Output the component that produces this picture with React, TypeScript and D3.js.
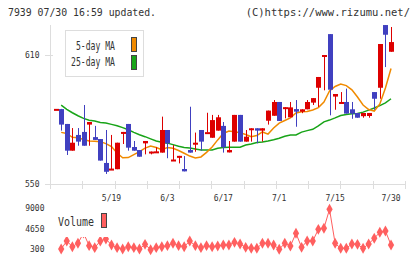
import React from "react";
import * as d3 from "d3";

const opens = [585, 584.9, 578, 565.6, 572.9, 574.3, 577.7, 571.9, 571, 559.9, 557, 557, 574, 578, 567.3, 565.9, 569.0, 565, 565, 564.7, 575.2, 561.3, 563, 557.1, 565.9, 568.9, 575.2, 574, 571.6, 574.9, 577.1, 564.8, 569.8, 582.2, 569.8, 575.2, 576, 574.9, 579.5, 581.8, 588.2, 585.6, 581.1, 584.9, 583.7, 584.8, 587.9, 594.8, 609.7, 619.7, 590.7, 588.1, 588.2, 584.8, 583.1, 581.6, 581.7, 592.8, 594.8, 623.9, 611.5];
const highs = [585, 585, 578, 576.1, 576.1, 586.8, 578.9, 577.1, 571, 575.2, 572.9, 569.3, 574.3, 578, 570.1, 565.9, 570.1, 565.2, 567.2, 581.4, 575.2, 568.2, 563.2, 563.1, 586, 574, 575.2, 583.2, 582.2, 582.2, 578.9, 570.1, 582.2, 582.2, 575.2, 576, 576, 576, 584.2, 589.1, 588.2, 585.8, 588.2, 589.1, 584.8, 589.1, 590, 599.8, 610, 619.7, 591.9, 592.8, 594.4, 588.2, 583.1, 583.1, 583.1, 592.8, 615.1, 623.9, 623];
const lows = [585, 574.9, 563.6, 565.6, 567.9, 567.9, 567.9, 570.6, 561, 554.8, 557, 557, 568.7, 565.6, 565.6, 562.8, 563.9, 563.9, 565, 564.7, 562.1, 561.3, 559.7, 556, 564.7, 565.1, 565.6, 574, 571.6, 574.9, 564.7, 564.8, 569.8, 569.8, 569.8, 569.8, 569, 569.8, 577.7, 581.8, 579.4, 580.6, 581.1, 576.7, 583, 584.8, 586.8, 585.9, 593.6, 582, 584.6, 588.1, 582.8, 580.4, 580.9, 580.9, 580.9, 584.6, 589.7, 604.4, 611.5];
const closes = [585, 577.7, 565.6, 569.3, 569.8, 567.9, 578.9, 570.6, 561, 555.8, 557.3, 569.3, 574.3, 567, 565.6, 562.8, 570.1, 565.2, 565.3, 575.2, 569, 561.5, 563.2, 556, 564.7, 569.3, 569.8, 574.2, 579.8, 581.1, 567.2, 565.9, 582.2, 569.8, 572.1, 576, 574.9, 576, 584.2, 588.2, 579.4, 585.8, 585.7, 583.7, 584.8, 588.2, 590, 599.8, 610, 593.9, 591.9, 588.2, 582.8, 582.8, 580.9, 583.1, 583.1, 589.7, 615.1, 619.4, 616];

const ma5 = [null, 574.1, 573.6, 571.8, 571.6, 570.8, 570.1, 570.0, 569.8, 568.9, 567.5, 564.5, 562.3, 562.4, 563.8, 565.2, 566.8, 567.8, 567.1, 566.1, 567.1, 566.7, 565.7, 564.4, 563.1, 562.2, 562.7, 564.8, 567.3, 570.6, 573.6, 574.7, 574.4, 573.9, 573.1, 572.1, 572.6, 574.3, 573.3, 576.1, 578.4, 579.6, 580.8, 583.1, 583.7, 583.8, 584.5, 585.6, 588.2, 593.3, 595.4, 596.5, 595.8, 593.8, 590.5, 586.8, 584.7, 584.0, 587.3, 594.7, 603.7];
const ma25 = [null, 586.7, 584.8, 583.2, 581.8, 580.6, 579.7, 579.4, 578.7, 578.4, 577.8, 577.2, 576.3, 575.3, 574.1, 573.0, 572.1, 571.1, 570.1, 569.5, 569.1, 568.4, 567.7, 567.1, 566.8, 566.4, 565.9, 565.9, 565.9, 566.7, 567.1, 567.2, 567.2, 567.2, 568.2, 568.7, 569.4, 569.6, 570.1, 570.7, 571.4, 572.3, 572.9, 572.9, 574.2, 574.9, 575.5, 577.1, 579.0, 579.8, 580.8, 581.9, 582.4, 582.7, 582.9, 583.5, 584.4, 585.4, 586.5, 587.8, 589.7];
const volumes = [null, 300, 2010, 790, 1520, 3700, 1010, 580, 2010, 2440, 1160, 580, 300, 790, 580, 300, 1300, 150, 580, 790, 1010, 1520, 1010, 790, 2010, 1010, 580, 1010, 790, 940, 1160, 1160, 1730, 1370, 660, 450, 450, 1520, 1520, 1160, 240, 1520, 940, 3660, 660, 2010, 2010, 4510, 4730, 8790, 1520, 450, 450, 1370, 1300, 450, 1370, 2590, 3870, 4150, 1160];

const xLabels = ["5/19", "6/3", "6/17", "7/1", "7/15", "7/30"];
const xLabelIdx = [10, 20, 30, 40, 50, 60];
const yTicks = [550, 610];
const volTicks = [300, 4650, 9000];

const FONT = "'DejaVu Sans Mono', monospace";
const RED = "#dd0000";
const BLUE = "#4040c0";
const ORANGE = "#f08a00";
const GREEN = "#18a418";
const VOLC = "#ff5f5f";
const AXIS = "#dddddd";
const TXT = "#333333";

export default function App() {
  const idx = d3.range(opens.length);
  const x = d3.scaleLinear().domain([-1, 62.5]).range([50, 405]);
  const y = d3.scaleLinear().domain([550, 610]).range([184.3, 55]);
  const yv = d3.scaleLinear().domain([300, 9000]).range([249, 208.3]);
  const grid = d3.scaleLinear().domain([0, 11]).range([50, 405]);

  const lineMa = (arr: (number | null)[]) =>
    d3
      .line<number>()
      .defined((i) => arr[i] != null)
      .x((i) => x(i))
      .y((i) => y(arr[i] as number))(idx) || "";

  const volLine =
    d3
      .line<number>()
      .defined((i) => volumes[i] != null)
      .x((i) => x(i))
      .y((i) => yv(volumes[i] as number))(idx) || "";

  const diamond = d3.symbol(d3.symbolDiamond, 34)() || "";
  const bw = 5;

  return (
    <svg width={420} height={259} style={{ position: "absolute", left: 0, top: 0, background: "#fff" }}>
      <rect width={420} height={259} fill="#fff" />
      <text x={8} y={16} fontFamily={FONT} fontSize={10.5} fill={TXT} textLength={148} lengthAdjust="spacingAndGlyphs">
        7939 07/30 16:59 updated.
      </text>
      <text x={410} y={16} fontFamily={FONT} fontSize={10.5} fill={TXT} textAnchor="end">
        (C)https://www.rizumu.net/
      </text>

      {/* axes */}
      <line x1={50.5} x2={50.5} y1={25} y2={189} stroke={AXIS} />
      <line x1={45} x2={405} y1={184.5} y2={184.5} stroke={AXIS} />
      {d3.range(12).map((k) => (
        <line key={k} x1={Math.round(grid(k)) + 0.5} x2={Math.round(grid(k)) + 0.5} y1={181} y2={189} stroke={AXIS} />
      ))}
      {yTicks.map((t) => (
        <g key={t}>
          <line x1={45} x2={53} y1={Math.round(y(t)) + 0.5} y2={Math.round(y(t)) + 0.5} stroke={AXIS} />
          <text x={39.5} y={y(t) + 3} fontFamily={FONT} fontSize={8} fill={TXT} textAnchor="end">
            {t}
          </text>
        </g>
      ))}
      {xLabels.map((l, k) => (
        <text key={l} x={x(xLabelIdx[k])} y={200.5} fontFamily={FONT} fontSize={8} fill={TXT} textAnchor="middle">
          {l}
        </text>
      ))}

      {/* moving averages */}
      <path d={lineMa(ma25)} fill="none" stroke={GREEN} strokeWidth={1.5} />
      <path d={lineMa(ma5)} fill="none" stroke={ORANGE} strokeWidth={1.5} />

      {/* candles */}
      {idx.map((i) => {
        const o = opens[i], c = closes[i], h = highs[i], l = lows[i];
        const up = c >= o;
        const col = up ? RED : BLUE;
        const cx = Math.round(x(i));
        const top = y(Math.max(o, c));
        const bot = y(Math.min(o, c));
        const hgt = Math.max(2, bot - top);
        return (
          <g key={i}>
            <line x1={cx + 0.5} x2={cx + 0.5} y1={y(h)} y2={y(l)} stroke={col} strokeWidth={1} />
            <rect x={cx - 2} y={top} width={bw} height={hgt} fill={col} />
          </g>
        );
      })}

      {/* legend */}
      <rect x={65.5} y={30.5} width={78} height={46} fill="#fff" stroke={AXIS} />
      <text x={115} y={49.5} fontFamily={FONT} fontSize={11.5} fill={TXT} textAnchor="end" textLength={39} lengthAdjust="spacingAndGlyphs">
        5-day MA
      </text>
      <text x={115} y={66} fontFamily={FONT} fontSize={11.5} fill={TXT} textAnchor="end" textLength={44} lengthAdjust="spacingAndGlyphs">
        25-day MA
      </text>
      <rect x={131.5} y={37.5} width={5} height={14} fill={ORANGE} stroke="#444" />
      <rect x={131.5} y={55.5} width={5} height={14} fill={GREEN} stroke="#444" />

      {/* volume */}
      {volTicks.map((t) => (
        <text key={t} x={44.5} y={yv(t) + 3} fontFamily={FONT} fontSize={8} fill={TXT} textAnchor="end">
          {t}
        </text>
      ))}
      <path d={volLine} fill="none" stroke={VOLC} strokeWidth={1} />
      {idx
        .filter((i) => volumes[i] != null)
        .map((i) => (
          <path key={i} d={diamond} transform={`translate(${x(i)},${yv(volumes[i] as number)})`} fill={VOLC} />
        ))}
      <rect x={55} y={209} width={56} height={28} fill="#fff" />
      <text x={58} y={226} fontFamily={FONT} fontSize={11.5} fill={TXT} textLength={36} lengthAdjust="spacingAndGlyphs">
        Volume
      </text>
      <rect x={101.5} y={213.5} width={5} height={14} fill={VOLC} stroke="#444" />
    </svg>
  );
}
